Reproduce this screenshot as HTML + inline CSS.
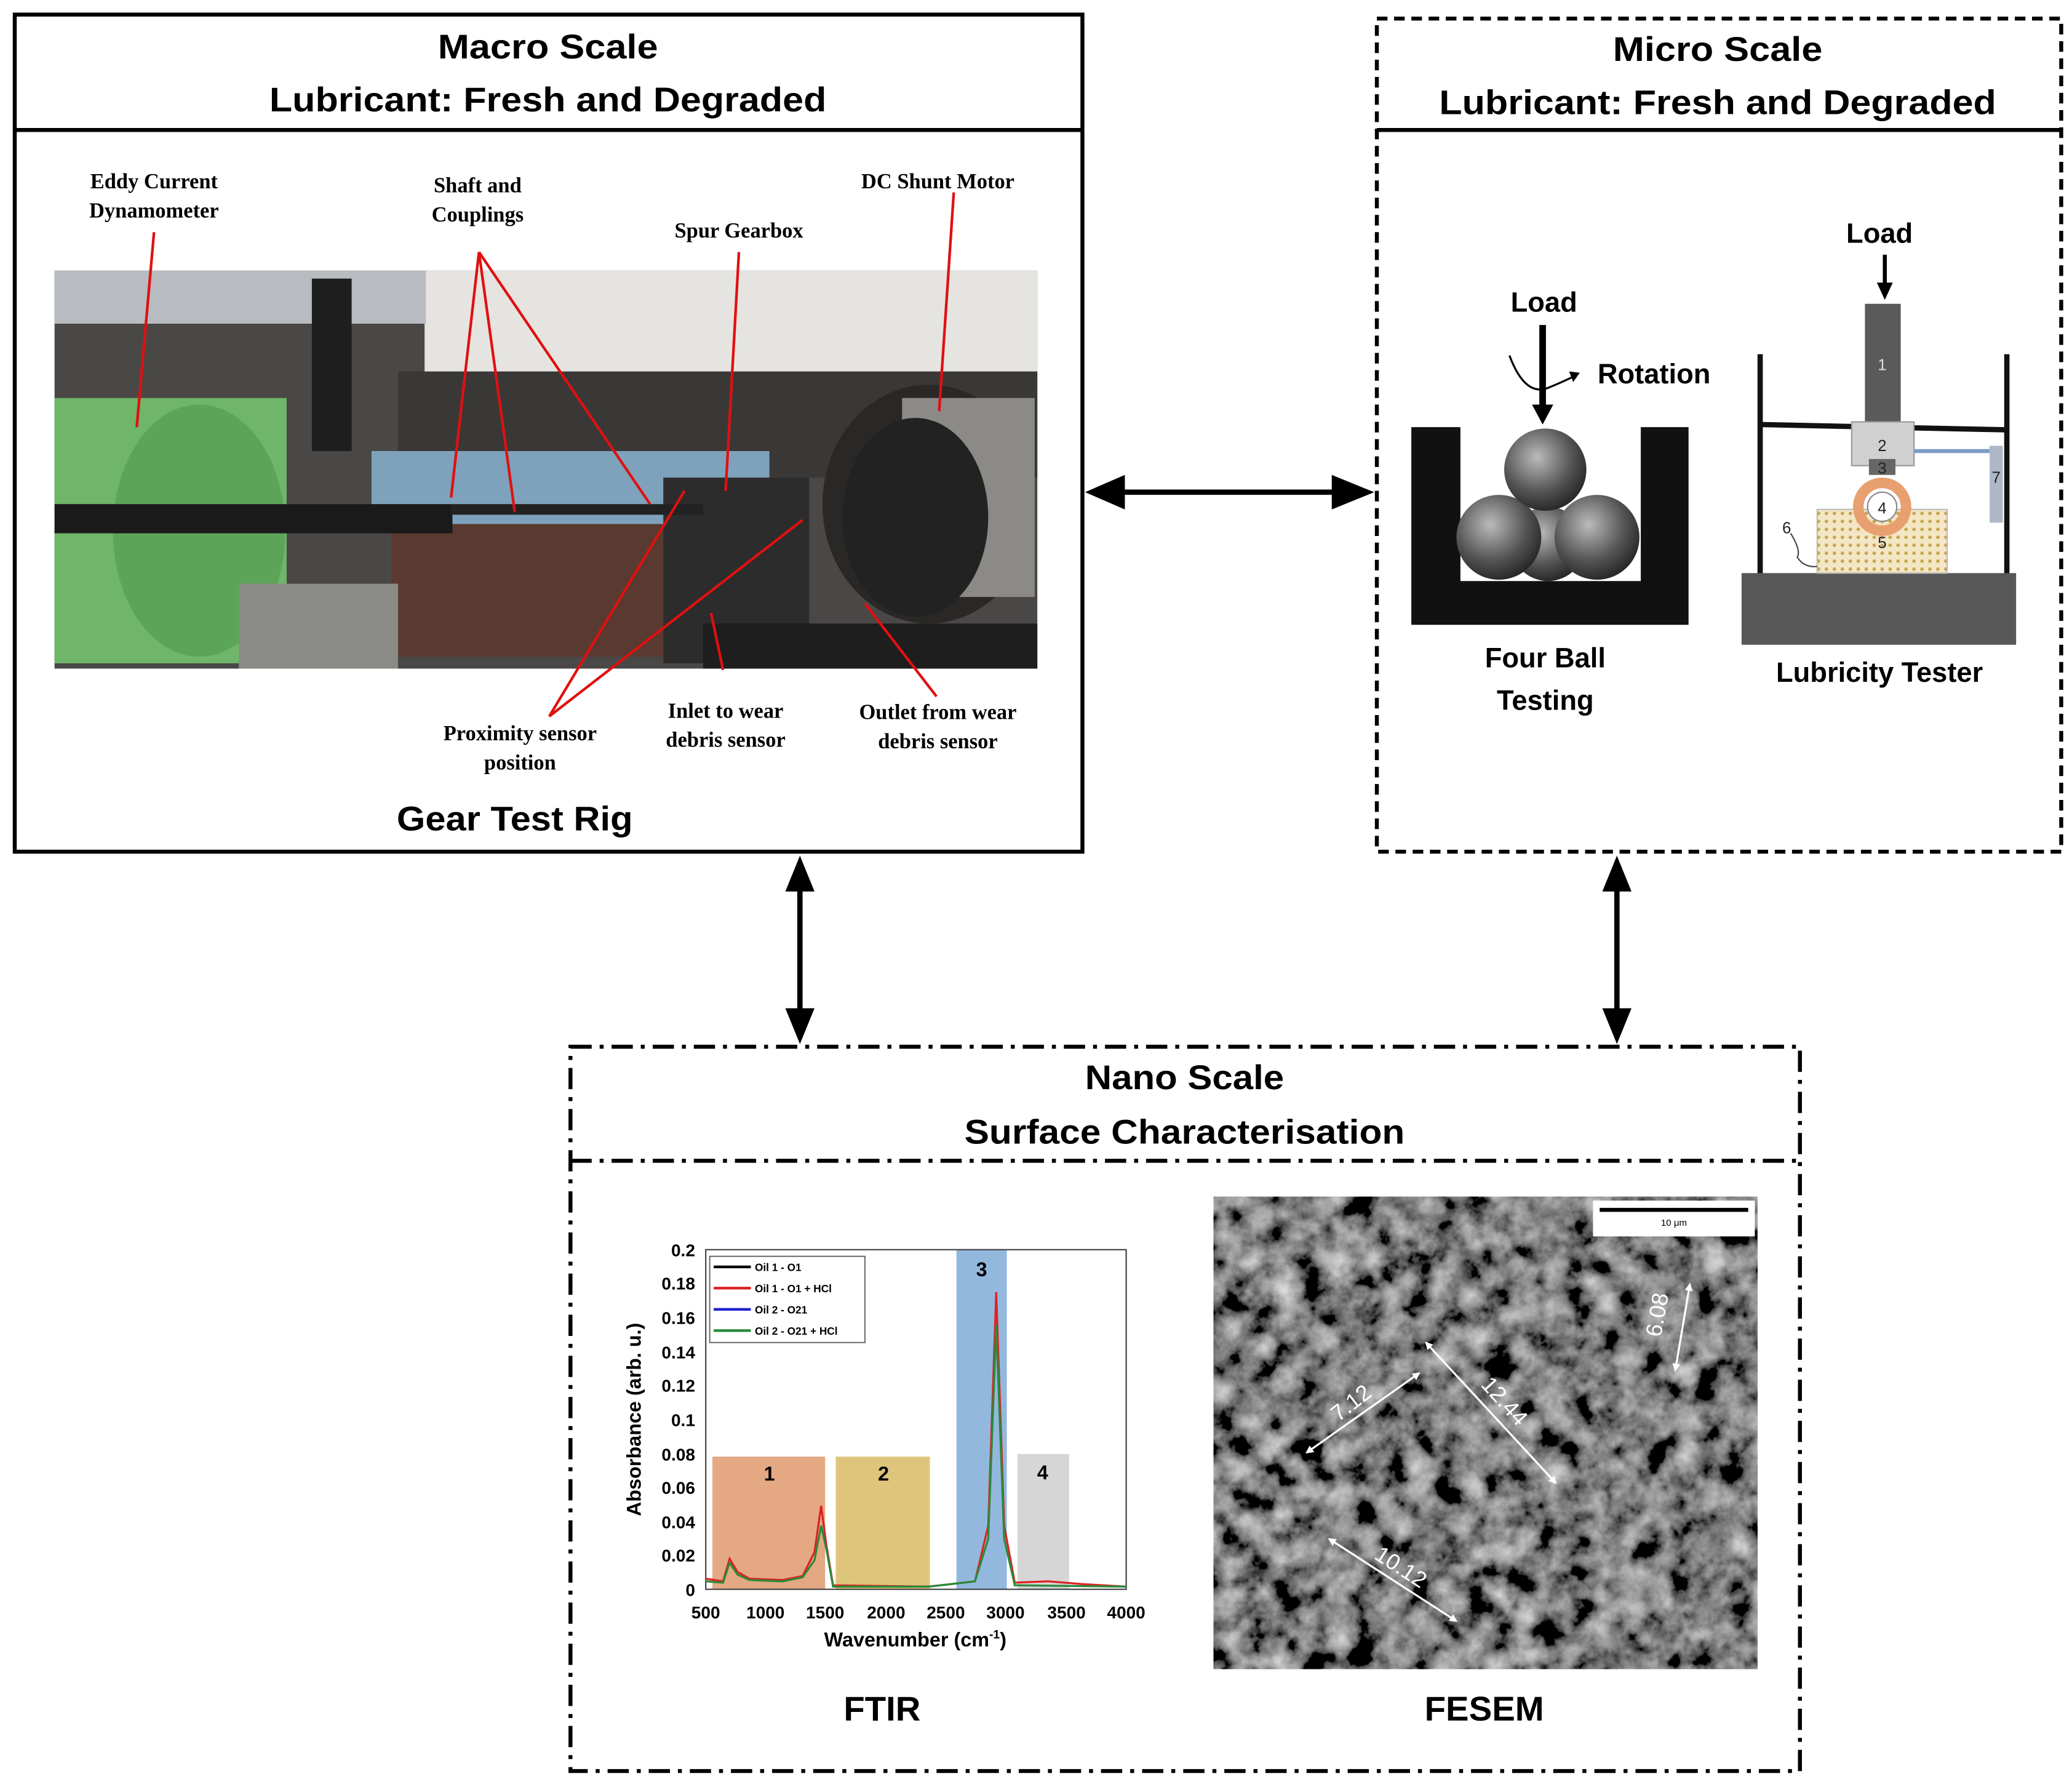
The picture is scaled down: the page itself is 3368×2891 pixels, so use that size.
<!DOCTYPE html>
<html><head><meta charset="utf-8"><style>html,body{margin:0;padding:0;background:#fff}svg{display:block}</style></head>
<body>
<svg xmlns="http://www.w3.org/2000/svg" width="3368" height="2891" viewBox="0 0 1562 1341">
<defs>
<filter id="sem" x="0" y="0" width="100%" height="100%">
<feTurbulence type="fractalNoise" baseFrequency="0.05" numOctaves="4" seed="7"/>
<feColorMatrix type="matrix" values="0.33 0.33 0.33 0 0  0.33 0.33 0.33 0 0  0.33 0.33 0.33 0 0  0 0 0 0 1"/>
<feComponentTransfer><feFuncR type="linear" slope="2.0" intercept="-0.78"/><feFuncG type="linear" slope="2.0" intercept="-0.78"/><feFuncB type="linear" slope="2.0" intercept="-0.78"/></feComponentTransfer>
</filter>
<radialGradient id="ball" cx="0.4" cy="0.35" r="0.7"><stop offset="0" stop-color="#bbb"/><stop offset="0.6" stop-color="#555"/><stop offset="1" stop-color="#222"/></radialGradient>
<pattern id="dots" width="6" height="6" patternUnits="userSpaceOnUse"><rect width="6" height="6" fill="#f3e6c4"/><circle cx="3" cy="3" r="1.3" fill="#c9a24a"/></pattern>
<marker id="ah" markerWidth="6" markerHeight="6" refX="5" refY="3" orient="auto" markerUnits="userSpaceOnUse"><path d="M0,0 L6,3 L0,6 z" fill="#fff"/></marker>
<marker id="ah2" markerWidth="6" markerHeight="6" refX="1" refY="3" orient="auto" markerUnits="userSpaceOnUse"><path d="M6,0 L0,3 L6,6 z" fill="#fff"/></marker>
</defs>
<rect width="1562" height="1341" fill="#fff"/>

<rect x="11" y="11" width="805" height="631" fill="none" stroke="#000" stroke-width="3"/>
<line x1="11" y1="98" x2="816" y2="98" stroke="#000" stroke-width="3"/>
<g font-family="Liberation Sans, sans-serif" font-weight="bold" font-size="26" text-anchor="middle" fill="#000">
<text x="413" y="44" textLength="166" lengthAdjust="spacingAndGlyphs">Macro Scale</text>
<text x="413" y="84" textLength="420" lengthAdjust="spacingAndGlyphs">Lubricant: Fresh and Degraded</text>
<text x="388" y="626" textLength="178" lengthAdjust="spacingAndGlyphs">Gear Test Rig</text>
<text x="1295" y="46" textLength="158" lengthAdjust="spacingAndGlyphs">Micro Scale</text>
<text x="1295" y="86" textLength="420" lengthAdjust="spacingAndGlyphs">Lubricant: Fresh and Degraded</text>
<text x="893" y="821" textLength="150" lengthAdjust="spacingAndGlyphs">Nano Scale</text>
<text x="893" y="862" textLength="332" lengthAdjust="spacingAndGlyphs">Surface Characterisation</text>
<text x="665" y="1297" textLength="58" lengthAdjust="spacingAndGlyphs">FTIR</text>
<text x="1119" y="1297" textLength="90" lengthAdjust="spacingAndGlyphs">FESEM</text>
</g>

<g>
<rect x="41" y="204" width="741" height="300" fill="#4a4846"/>
<rect x="320" y="204" width="462" height="80" fill="#e6e4e0"/>
<rect x="41" y="204" width="280" height="40" fill="#b8bcc0"/>
<rect x="300" y="280" width="482" height="80" fill="#3a3836"/>
<rect x="280" y="340" width="300" height="60" fill="#7ea2bc"/>
<rect x="295" y="395" width="230" height="100" fill="#5a3a30"/>
<rect x="41" y="300" width="175" height="200" fill="#6fb56a"/>
<ellipse cx="150" cy="400" rx="65" ry="95" fill="#5ca558"/>
<rect x="41" y="380" width="300" height="22" fill="#1a1a1a"/>
<rect x="180" y="440" width="120" height="64" fill="#8a8a86"/>
<ellipse cx="700" cy="380" rx="80" ry="90" fill="#2a2826"/>
<rect x="680" y="300" width="100" height="150" fill="#8c8a86"/>
<ellipse cx="690" cy="390" rx="55" ry="75" fill="#222"/>
<rect x="500" y="360" width="110" height="140" fill="#2c2c2c"/>
<rect x="340" y="380" width="190" height="8" fill="#222"/>
<rect x="235" y="210" width="30" height="130" fill="#1f1f1f"/>
<rect x="530" y="470" width="252" height="34" fill="#1e1e1e"/>
</g>
<g stroke="#e01010" stroke-width="2" fill="none">
<line x1="116" y1="175" x2="103" y2="322"/>
<line x1="361" y1="190" x2="340" y2="375"/>
<line x1="361" y1="190" x2="388" y2="386"/>
<line x1="361" y1="190" x2="490" y2="380"/>
<line x1="557" y1="190" x2="547" y2="370"/>
<line x1="719" y1="145" x2="708" y2="310"/>
<line x1="414" y1="540" x2="516" y2="370"/>
<line x1="414" y1="540" x2="605" y2="392"/>
<line x1="545" y1="505" x2="536" y2="462"/>
<line x1="706" y1="525" x2="652" y2="455"/>
</g>
<g font-family="Liberation Serif, serif" font-weight="bold" font-size="16" text-anchor="middle" fill="#000">
<text x="116" y="142">Eddy Current</text><text x="116" y="164">Dynamometer</text>
<text x="360" y="145">Shaft and</text><text x="360" y="167">Couplings</text>
<text x="557" y="179">Spur Gearbox</text>
<text x="707" y="142">DC Shunt Motor</text>
<text x="392" y="558">Proximity sensor</text><text x="392" y="580">position</text>
<text x="547" y="541">Inlet to wear</text><text x="547" y="563">debris sensor</text>
<text x="707" y="542">Outlet from wear</text><text x="707" y="564">debris sensor</text>
</g>

<rect x="1038" y="14" width="516" height="628" fill="none" stroke="#000" stroke-width="3" stroke-dasharray="8,5"/>
<line x1="1038" y1="98" x2="1554" y2="98" stroke="#000" stroke-width="3"/>

<path d="M1064,322 H1101 V438 H1237 V322 H1273 V471 H1064 Z" fill="#111"/>
<circle cx="1167" cy="410" r="28" fill="url(#ball)"/>
<circle cx="1130" cy="405" r="32" fill="url(#ball)"/>
<circle cx="1204" cy="405" r="32" fill="url(#ball)"/>
<circle cx="1165" cy="354" r="31" fill="url(#ball)"/>
<line x1="1163" y1="245" x2="1163" y2="308" stroke="#000" stroke-width="5"/>
<path d="M1155,305 L1171,305 L1163,320 Z" fill="#000"/>
<path d="M1138,268 Q1150,300 1168,292 Q1180,287 1188,283" fill="none" stroke="#000" stroke-width="1.5"/>
<path d="M1191,281 L1183,280 L1186,288 Z" fill="#000"/>
<g font-family="Liberation Sans, sans-serif" font-weight="bold" font-size="21" text-anchor="middle" fill="#000">
<text x="1164" y="235">Load</text>
<text x="1247" y="289">Rotation</text>
<text x="1165" y="503">Four Ball</text>
<text x="1165" y="535">Testing</text>
<text x="1417" y="183">Load</text>
<text x="1417" y="514">Lubricity Tester</text>
</g>

<line x1="1421" y1="192" x2="1421" y2="215" stroke="#000" stroke-width="3"/>
<path d="M1415,213 L1427,213 L1421,226 Z" fill="#000"/>
<rect x="1313" y="432" width="207" height="54" fill="#575757"/>
<line x1="1327" y1="267" x2="1327" y2="432" stroke="#111" stroke-width="4"/>
<line x1="1513" y1="267" x2="1513" y2="432" stroke="#111" stroke-width="4"/>
<line x1="1327" y1="320" x2="1512" y2="324" stroke="#111" stroke-width="4"/>
<rect x="1406" y="229" width="27" height="89" fill="#5a5a5a"/>
<rect x="1396" y="318" width="47" height="33" fill="#d0d0d0" stroke="#999"/>
<rect x="1409" y="346" width="20" height="12" fill="#666"/>
<line x1="1443" y1="340" x2="1500" y2="340" stroke="#7a9cc8" stroke-width="3"/>
<rect x="1500" y="336" width="10" height="58" fill="#aeb8c8"/>
<rect x="1370" y="384" width="98" height="48" fill="url(#dots)" stroke="#bbb"/>
<circle cx="1419" cy="382" r="18" fill="none" stroke="#e8a070" stroke-width="8"/>
<circle cx="1419" cy="382" r="11" fill="#fff" stroke="#888"/>
<path d="M1350,402 Q1358,415 1355,420 Q1360,428 1370,427" fill="none" stroke="#444" stroke-width="1"/>
<g font-family="Liberation Sans, sans-serif" font-size="12" text-anchor="middle" fill="#222">
<text x="1419" y="279" fill="#ddd">1</text><text x="1419" y="340">2</text><text x="1419" y="357">3</text>
<text x="1419" y="387">4</text><text x="1419" y="413">5</text><text x="1347" y="402">6</text><text x="1505" y="364">7</text>
</g>

<line x1="840" y1="371" x2="1012" y2="371" stroke="#000" stroke-width="4"/>
<path d="M818,371 L848,358 L848,384 Z" fill="#000"/>
<path d="M1036,371 L1004,358 L1004,384 Z" fill="#000"/>
<line x1="603" y1="665" x2="603" y2="768" stroke="#000" stroke-width="4"/>
<path d="M603,645 L592,672 L614,672 Z" fill="#000"/>
<path d="M603,787 L592,760 L614,760 Z" fill="#000"/>
<line x1="1219" y1="665" x2="1219" y2="768" stroke="#000" stroke-width="4"/>
<path d="M1219,645 L1208,672 L1230,672 Z" fill="#000"/>
<path d="M1219,787 L1208,760 L1230,760 Z" fill="#000"/>

<rect x="430" y="789" width="927" height="546" fill="none" stroke="#000" stroke-width="3" stroke-dasharray="16,6,3,6"/>
<line x1="430" y1="875" x2="1357" y2="875" stroke="#000" stroke-width="3" stroke-dasharray="16,6,3,6"/>

<rect x="537" y="1098" width="85" height="100" fill="#e4a883"/>
<rect x="630" y="1098" width="71" height="100" fill="#dfc47c"/>
<rect x="721" y="942" width="38" height="256" fill="#93b8de"/>
<rect x="767" y="1096" width="39" height="102" fill="#d6d6d6"/>
<rect x="532" y="942" width="317" height="256" fill="none" stroke="#444" stroke-width="1"/>
<path d="M532,1190 L545,1192 L550,1175 L556,1185 L565,1190 L590,1191 L605,1188 L614,1170 L619,1135 L623,1165 L628,1195 L700,1196 L735,1192 L745,1150 L751,974 L757,1150 L765,1193 L790,1192 L815,1194 L849,1196" fill="none" stroke="#d22" stroke-width="1.5"/>
<path d="M532,1192 L545,1193 L550,1178 L556,1187 L565,1191 L590,1192 L605,1189 L614,1176 L619,1150 L623,1168 L628,1196 L700,1196 L735,1192 L745,1160 L751,999 L757,1160 L765,1195 L849,1196" fill="none" stroke="#2a8a3a" stroke-width="1.5"/>
<rect x="535" y="947" width="117" height="65" fill="#fff" stroke="#555" stroke-width="0.8"/>
<g font-family="Liberation Sans, sans-serif" font-size="8" fill="#000" font-weight="bold">
<line x1="538" y1="955" x2="566" y2="955" stroke="#000" stroke-width="2"/><text x="569" y="958">Oil 1 - O1</text>
<line x1="538" y1="971" x2="566" y2="971" stroke="#d22" stroke-width="2"/><text x="569" y="974">Oil 1 - O1 + HCl</text>
<line x1="538" y1="987" x2="566" y2="987" stroke="#22c" stroke-width="2"/><text x="569" y="990">Oil 2 - O21</text>
<line x1="538" y1="1003" x2="566" y2="1003" stroke="#2a8a3a" stroke-width="2"/><text x="569" y="1006">Oil 2 - O21 + HCl</text>
</g>
<g font-family="Liberation Sans, sans-serif" font-size="13" font-weight="bold" fill="#000" text-anchor="end">
<text x="524" y="947">0.2</text><text x="524" y="972">0.18</text><text x="524" y="998">0.16</text><text x="524" y="1024">0.14</text><text x="524" y="1049">0.12</text><text x="524" y="1075">0.1</text><text x="524" y="1101">0.08</text><text x="524" y="1126">0.06</text><text x="524" y="1152">0.04</text><text x="524" y="1177">0.02</text><text x="524" y="1203">0</text>
</g>
<g font-family="Liberation Sans, sans-serif" font-size="13" font-weight="bold" fill="#000" text-anchor="middle">
<text x="532" y="1220">500</text><text x="577" y="1220">1000</text><text x="622" y="1220">1500</text><text x="668" y="1220">2000</text><text x="713" y="1220">2500</text><text x="758" y="1220">3000</text><text x="804" y="1220">3500</text><text x="849" y="1220">4000</text>
<text x="690" y="1241" font-size="15">Wavenumber (cm<tspan font-size="9" dy="-6">-1</tspan><tspan dy="6">)</tspan></text>
<text x="0" y="0" font-size="15" transform="translate(483,1070) rotate(-90)">Absorbance (arb. u.)</text>
<text x="580" y="1116" font-size="15">1</text><text x="666" y="1116" font-size="15">2</text><text x="740" y="962" font-size="15">3</text><text x="786" y="1115" font-size="15">4</text>
</g>

<rect x="915" y="902" width="410" height="356" fill="#333"/>
<rect x="915" y="902" width="410" height="356" filter="url(#sem)"/>
<rect x="1201" y="905" width="122" height="27" fill="#fff"/>
<line x1="1206" y1="912" x2="1318" y2="912" stroke="#000" stroke-width="3"/>
<text x="1262" y="924" font-family="Liberation Sans, sans-serif" font-size="7" text-anchor="middle">10 μm</text>
<g stroke="#fff" stroke-width="1.5" marker-start="url(#ah2)" marker-end="url(#ah)">
<line x1="985" y1="1095" x2="1070" y2="1035"/>
<line x1="1075" y1="1012" x2="1173" y2="1118"/>
<line x1="1002" y1="1160" x2="1098" y2="1222"/>
<line x1="1274" y1="968" x2="1263" y2="1033"/>
</g>
<g font-family="Liberation Sans, sans-serif" font-size="17" fill="#fff" text-anchor="middle">
<text transform="translate(1022,1062) rotate(-38)">7.12</text>
<text transform="translate(1130,1060) rotate(48)">12.44</text>
<text transform="translate(1053,1186) rotate(33)">10.12</text>
<text transform="translate(1255,992) rotate(-80)">6.08</text>
</g>
</svg>
</body></html>
